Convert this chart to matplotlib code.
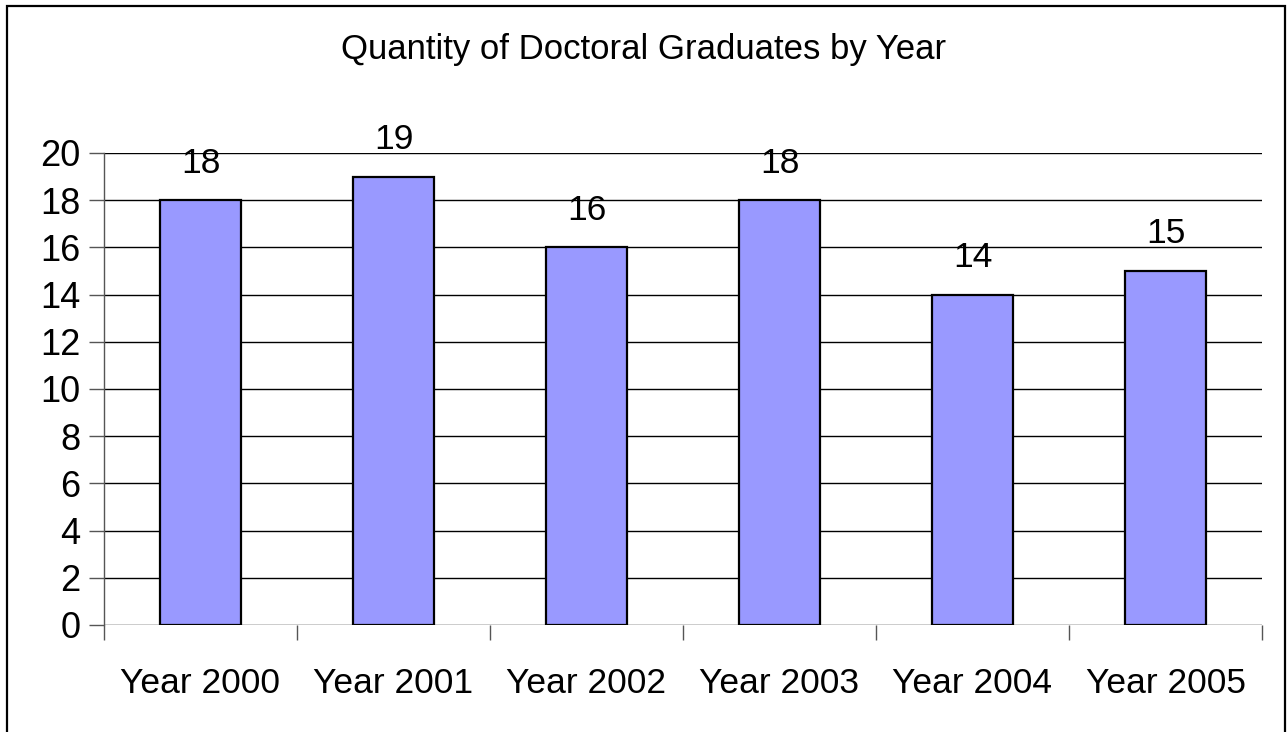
import matplotlib
matplotlib.use("Agg")
import matplotlib.pyplot as plt
from matplotlib.patches import Rectangle

categories = ["Year 2000", "Year 2001", "Year 2002", "Year 2003", "Year 2004", "Year 2005"]
graduates = [18, 19, 16, 18, 14, 15]
y_ticks = [0, 2, 4, 6, 8, 10, 12, 14, 16, 18, 20]

plt.rcParams["font.family"] = ["Liberation Sans", "DejaVu Sans"]

W, H, DPI = 1288, 732, 100
fig = plt.figure(figsize=(W / DPI, H / DPI), dpi=DPI)
fig.patch.set_facecolor("white")

# chart border (open at the bottom edge)
fig.add_artist(Rectangle((7 / W, -0.05), (1285 - 7) / W, 1.05 - 6 / H,
                         transform=fig.transFigure, fill=False,
                         edgecolor="black", linewidth=1.6))

ax = fig.add_axes([104 / W, 1 - 625 / H, (1262 - 104) / W, (625 - 153) / H])
x = list(range(len(categories)))
ax.bar(x, graduates, width=0.415, color="#9999FF", edgecolor="black",
       linewidth=1.6, zorder=3)

ax.set_xlim(-0.5, len(categories) - 0.5)
ax.set_ylim(0, 20)
ax.set_yticks(y_ticks)
ax.tick_params(axis="y", labelsize=26, length=11, width=1, color="#555555", pad=6)
ax.yaxis.grid(True, color="black", linewidth=1)
ax.set_axisbelow(True)

ax.set_xticks(x)
ax.set_xticklabels(categories, fontsize=25.5)
ax.tick_params(axis="x", length=0, pad=30)
ax.set_xticks([i - 0.5 for i in range(len(categories) + 1)], minor=True)
ax.tick_params(axis="x", which="minor", length=11, width=1, color="#555555")

for side in ["top", "right", "bottom"]:
    ax.spines[side].set_visible(False)
ax.spines["left"].set_color("#555555")
ax.spines["left"].set_linewidth(1)

# value labels above each bar
for xi, v in zip(x, graduates):
    ax.text(xi, v + 1.57, str(v), ha="center", va="center",
            fontsize=25.5, zorder=4, clip_on=False)

fig.text(0.5, 1 - 50 / H, "Quantity of Doctoral Graduates by Year",
         ha="center", va="center", fontsize=25)

fig.savefig("out.png", dpi=DPI)
